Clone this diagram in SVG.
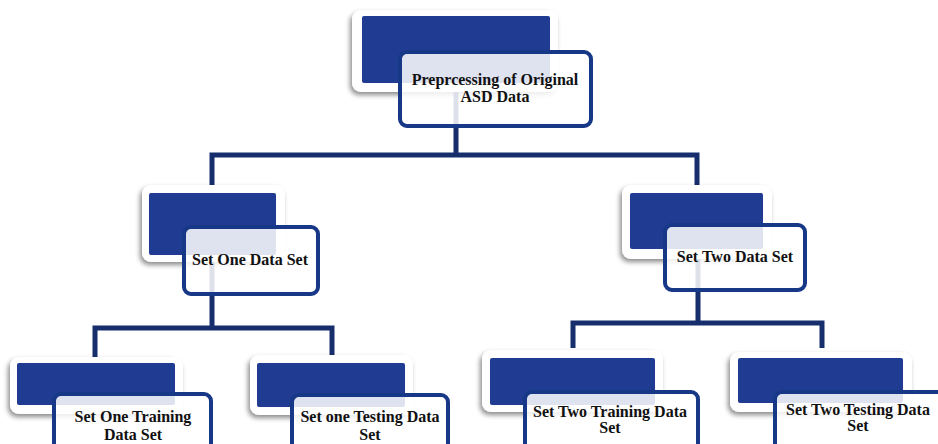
<svg xmlns="http://www.w3.org/2000/svg" width="938" height="444" viewBox="0 0 938 444">
<defs>
<filter id="sh" x="-20%" y="-20%" width="140%" height="150%">
<feDropShadow dx="-2" dy="3" stdDeviation="2.5" flood-color="#000" flood-opacity="0.45"/>
</filter>
<style>
.frame{fill:#fff;filter:url(#sh)}
.blue{fill:#1f3c92}
.front{fill:#fff;fill-opacity:0.86;stroke:#173887;stroke-width:4}
.lbl{font-family:"Liberation Serif","Times New Roman",serif;font-weight:bold;font-size:16px;fill:#111;text-anchor:middle}
.con{fill:none;stroke:#162e6c;stroke-width:5;stroke-linejoin:miter}
</style>
</defs>
<rect width="938" height="444" fill="#fff"/>
<g id="connectors">
<path class="con" d="M456,60 V155 M212,185 V155 H697 V185"/>
<path class="con" d="M212,230 V328 M95,364 V328 H332 V364"/>
<path class="con" d="M698,228 V323 M573,348 V323 H822 V348"/>
</g>
<g id="root">
<rect class="frame" x="352" y="10" width="206" height="82" rx="9"/>
<rect class="blue" x="362" y="16" width="188" height="67" rx="2"/>
<rect class="front" x="400" y="52" width="191" height="74" rx="7"/>
<text class="lbl" x="495" y="85">Preprcessing of Original</text>
<text class="lbl" x="495" y="102">ASD Data</text>
</g>
<g id="set-one">
<rect class="frame" x="142" y="185" width="143" height="77" rx="9"/>
<rect class="blue" x="149" y="193" width="127" height="62" rx="2"/>
<rect class="front" x="184" y="227" width="134" height="67" rx="7"/>
<text class="lbl" x="250" y="265">Set One Data Set</text>
</g>
<g id="set-two">
<rect class="frame" x="622" y="185" width="150" height="74" rx="9"/>
<rect class="blue" x="630" y="193" width="133" height="56" rx="2"/>
<rect class="front" x="665" y="225" width="140" height="65" rx="7"/>
<text class="lbl" x="735" y="262">Set Two Data Set</text>
</g>
<g id="set-one-training">
<rect class="frame" x="10" y="357" width="173" height="57" rx="9"/>
<rect class="blue" x="17" y="363" width="158" height="42" rx="2"/>
<rect class="front" x="54" y="394" width="157" height="60" rx="7"/>
<text class="lbl" x="133" y="422">Set One Training</text>
<text class="lbl" x="133" y="440">Data Set</text>
</g>
<g id="set-one-testing">
<rect class="frame" x="250" y="355" width="163" height="60" rx="9"/>
<rect class="blue" x="257" y="363" width="148" height="44" rx="2"/>
<rect class="front" x="292" y="395" width="156" height="60" rx="7"/>
<text class="lbl" x="370" y="422">Set one Testing Data</text>
<text class="lbl" x="370" y="440">Set</text>
</g>
<g id="set-two-training">
<rect class="frame" x="482" y="350" width="181" height="62" rx="9"/>
<rect class="blue" x="490" y="358" width="165" height="47" rx="2"/>
<rect class="front" x="525" y="392" width="173" height="60" rx="7"/>
<text class="lbl" x="610" y="417">Set Two Training Data</text>
<text class="lbl" x="610" y="433">Set</text>
</g>
<g id="set-two-testing">
<rect class="frame" x="730" y="352" width="182" height="60" rx="9"/>
<rect class="blue" x="738" y="358" width="165" height="45" rx="2"/>
<rect class="front" x="775" y="392" width="170" height="60" rx="7"/>
<text class="lbl" x="858" y="415">Set Two Testing Data</text>
<text class="lbl" x="858" y="431">Set</text>
</g>
</svg>
